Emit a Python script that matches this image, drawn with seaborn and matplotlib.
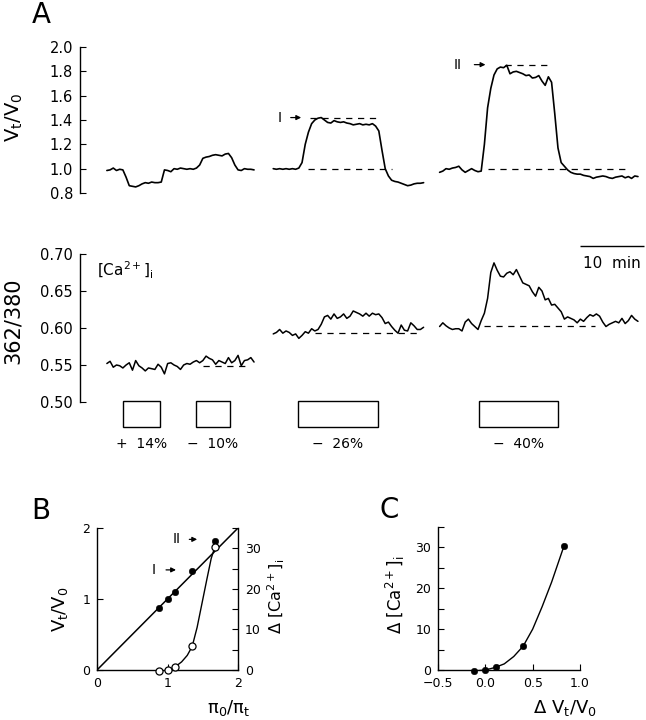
import numpy as np
import pandas as pd
import matplotlib
matplotlib.use("Agg")
import matplotlib.pyplot as plt
from matplotlib.patches import Rectangle
import seaborn as sns

# ---- panel A: time traces (minutes), three recordings ----
seg_start = [0.0, 26.0, 52.0]
seg_end = [23.0, 49.5, 83.0]

vol_seg1 = [0.985, 0.99, 1.005, 0.985, 0.995, 0.99, 0.93, 0.86, 0.855, 0.85,
            0.86, 0.875, 0.885, 0.88, 0.89, 0.885, 0.885, 0.89, 0.99, 0.985,
            0.975, 1.0, 0.995, 1.005, 1.0, 0.995, 1.0, 0.995, 1.005, 1.03,
            1.085, 1.095, 1.1, 1.11, 1.115, 1.11, 1.105, 1.12, 1.125, 1.09,
            1.03, 0.99, 0.985, 1.0, 0.995, 0.995, 0.99]
vol_seg2 = [1.0, 0.995, 1.0, 0.995, 1.0, 0.995, 1.0, 0.995, 1.005, 1.05,
            1.2, 1.3, 1.37, 1.40, 1.415, 1.42, 1.40, 1.38, 1.375, 1.395,
            1.385, 1.38, 1.385, 1.375, 1.37, 1.36, 1.365, 1.37, 1.36, 1.365,
            1.36, 1.37, 1.35, 1.31, 1.15, 1.0, 0.94, 0.905, 0.895, 0.89,
            0.88, 0.87, 0.86, 0.865, 0.875, 0.88, 0.88, 0.885]
vol_seg3 = [0.97, 0.98, 1.0, 0.995, 1.005, 1.01, 1.02, 0.99, 0.97, 0.985,
            1.0, 0.985, 0.975, 0.98, 1.2, 1.5, 1.66, 1.77, 1.82, 1.835,
            1.83, 1.85, 1.78, 1.795, 1.80, 1.79, 1.78, 1.765, 1.77, 1.745,
            1.75, 1.765, 1.72, 1.685, 1.755, 1.71, 1.45, 1.17, 1.05, 1.02,
            0.99, 0.97, 0.96, 0.955, 0.955, 0.945, 0.94, 0.935, 0.92, 0.93,
            0.935, 0.94, 0.935, 0.925, 0.92, 0.93, 0.935, 0.94, 0.925, 0.935,
            0.92, 0.94, 0.935]

ca_seg1 = [0.552, 0.555, 0.547, 0.550, 0.549, 0.546, 0.550, 0.553, 0.543, 0.556,
           0.549, 0.546, 0.542, 0.546, 0.545, 0.544, 0.551, 0.547, 0.538, 0.552,
           0.553, 0.550, 0.548, 0.544, 0.550, 0.552, 0.551, 0.554, 0.556, 0.553,
           0.556, 0.562, 0.559, 0.557, 0.551, 0.556, 0.554, 0.552, 0.560, 0.553,
           0.556, 0.563, 0.549, 0.556, 0.557, 0.560, 0.554]
ca_seg2 = [0.592, 0.594, 0.598, 0.593, 0.596, 0.594, 0.590, 0.592, 0.586, 0.590,
           0.595, 0.593, 0.599, 0.596, 0.598, 0.605, 0.615, 0.617, 0.612, 0.619,
           0.613, 0.615, 0.619, 0.613, 0.616, 0.623, 0.621, 0.619, 0.616, 0.620,
           0.616, 0.620, 0.618, 0.619, 0.614, 0.606, 0.608, 0.602, 0.597, 0.593,
           0.604, 0.597, 0.596, 0.607, 0.603, 0.598, 0.598, 0.601]
ca_seg3 = [0.602, 0.607, 0.603, 0.600, 0.598, 0.599, 0.599, 0.596, 0.608, 0.612,
           0.606, 0.602, 0.598, 0.610, 0.620, 0.640, 0.675, 0.688, 0.678, 0.670,
           0.669, 0.674, 0.676, 0.672, 0.679, 0.670, 0.661, 0.659, 0.657, 0.649,
           0.643, 0.655, 0.650, 0.638, 0.640, 0.631, 0.632, 0.627, 0.622, 0.612,
           0.615, 0.613, 0.611, 0.607, 0.612, 0.609, 0.614, 0.618, 0.616, 0.619,
           0.616, 0.608, 0.602, 0.605, 0.607, 0.609, 0.607, 0.613, 0.606, 0.610,
           0.617, 0.612, 0.609]

# dashed reference levels
vol_ref_level = [1.42, 1.0, 1.855, 1.0]
vol_ref_start = [31.7, 31.4, 62.2, 59.5]
vol_ref_end = [42.3, 44.5, 69.2, 81.4]
ca_ref_level = [0.549, 0.593, 0.603]
ca_ref_start = [15.0, 32.5, 59.0]
ca_ref_end = [21.9, 48.4, 76.3]

# osmotic steps
stim_start = [2.5, 13.9, 29.8, 58.1]
stim_end = [8.3, 19.2, 42.3, 70.5]
stim_labels = ["+  14%", "\u2212  10%", "\u2212  26%", "\u2212  40%"]

# ---- panel B / C ----
pi_ratio = [0.88, 1.0, 1.11, 1.35, 1.67]
vol_ratio = [0.87, 1.0, 1.10, 1.39, 1.82]
d_ca = [-0.3, 0.0, 0.8, 5.8, 30.2]
line_x = [0.0, 2.0]
line_y = [0.0, 2.0]
fit_b_x = [0.88, 1.0, 1.11, 1.2, 1.28, 1.35, 1.42, 1.49, 1.56, 1.62, 1.67]
fit_b_y = [-0.3, -0.1, 0.8, 2.0, 3.6, 5.8, 10.5, 16.5, 22.5, 27.5, 30.2]

d_vol = [-0.12, 0.0, 0.11, 0.40, 0.83]
d_ca_c = [-0.25, 0.0, 0.8, 5.85, 30.3]
fit_c_x = [-0.12, 0.0, 0.1, 0.2, 0.3, 0.4, 0.5, 0.6, 0.7, 0.83]
fit_c_y = [-0.25, 0.0, 0.6, 1.5, 3.3, 5.85, 10.0, 15.5, 21.5, 30.3]


def trace_frame(segs):
    rows = []
    for i, vals in enumerate(segs):
        t = np.linspace(seg_start[i], seg_end[i], len(vals))
        rows.append(pd.DataFrame({"t": t, "val": vals, "seg": i}))
    return pd.concat(rows, ignore_index=True)


sns.set_style("ticks")
plt.rcParams["font.family"] = ["DejaVu Sans"]
plt.rcParams["mathtext.fontset"] = "dejavusans"
plt.rcParams["xtick.direction"] = "in"
plt.rcParams["ytick.direction"] = "in"
plt.rcParams["axes.linewidth"] = 1.0
for key in ["text.color", "axes.edgecolor", "axes.labelcolor", "xtick.color", "ytick.color"]:
    plt.rcParams[key] = "black"

W, H = 646, 720
fig = plt.figure(figsize=(W / 100, H / 100), dpi=100)


def px_axes(x0, y0, x1, y1):
    return fig.add_axes([x0 / W, 1 - y1 / H, (x1 - x0) / W, (y1 - y0) / H])


def ftext(x, y, s, **kw):
    fig.text(x / W, 1 - y / H, s, ha="center", va="center", **kw)


dash = (0, (5, 4.5))
xlim = (-4.2, 84.1)

# --- volume traces ---
ax_vol = px_axes(80, 47, 645, 193)
sns.lineplot(data=trace_frame([vol_seg1, vol_seg2, vol_seg3]), x="t", y="val",
             units="seg", estimator=None, color="k", lw=1.2, ax=ax_vol)
ax_vol.hlines(vol_ref_level, vol_ref_start, vol_ref_end, colors="k", lw=0.9, linestyles=dash)
ax_vol.set_xlim(xlim)
ax_vol.set_ylim(0.8, 2.0)
ax_vol.set_yticks(np.arange(0.8, 2.01, 0.2))
ax_vol.set_yticklabels([f"{v:.1f}" for v in np.arange(0.8, 2.01, 0.2)])
ax_vol.set_xticks([])
ax_vol.set_xlabel("")
ax_vol.set_ylabel("")
sns.despine(ax=ax_vol, bottom=True)
ax_vol.tick_params(axis="y", length=4.5, width=0.8, labelsize=10.5, pad=5)

for lab, tx, t0, t1, lev in [("I", 27.0, 28.3, 30.8, 1.42), ("II", 54.8, 57.0, 59.6, 1.855)]:
    ax_vol.text(tx, lev, lab, ha="center", va="center", fontsize=10)
    ax_vol.annotate("", xy=(t1, lev), xytext=(t0, lev),
                    arrowprops=dict(arrowstyle="-|>", lw=0.9, color="k", mutation_scale=7))

# --- calcium traces ---
ax_ca = px_axes(80, 254, 645, 402)
sns.lineplot(data=trace_frame([ca_seg1, ca_seg2, ca_seg3]), x="t", y="val",
             units="seg", estimator=None, color="k", lw=1.1, ax=ax_ca)
ax_ca.hlines(ca_ref_level, ca_ref_start, ca_ref_end, colors="k", lw=0.9, linestyles=dash)
ax_ca.set_xlim(xlim)
ax_ca.set_ylim(0.5, 0.7)
ax_ca.set_yticks(np.arange(0.5, 0.701, 0.05))
ax_ca.set_yticklabels([f"{v:.2f}" for v in np.arange(0.5, 0.701, 0.05)])
ax_ca.set_xticks([])
ax_ca.set_xlabel("")
ax_ca.set_ylabel("")
sns.despine(ax=ax_ca, bottom=True)
ax_ca.tick_params(axis="y", length=4.5, width=0.8, labelsize=10.5, pad=5)
ax_ca.text(-1.6, 0.678, r"$\mathregular{[Ca^{2+}]_i}$", ha="left", va="center", fontsize=11)
# 10 min scale bar
ax_ca.hlines(0.7108, 74.0, 84.0, colors="k", lw=1.0, clip_on=False)
ax_ca.text(79.0, 0.6865, "10  min", ha="center", va="center", fontsize=11)

# --- stimulus boxes ---
ax_st = px_axes(80, 398, 645, 455)
ax_st.set_xlim(xlim)
ax_st.set_ylim(0, 57)
ax_st.axis("off")
for s0, s1, lab in zip(stim_start, stim_end, stim_labels):
    ax_st.add_patch(Rectangle((s0, 28), s1 - s0, 26, fill=False, ec="k", lw=1.0))
    ax_st.text((s0 + s1) / 2, 11, lab, ha="center", va="center", fontsize=10)

# --- panel B ---
ax_b = px_axes(97, 528, 238, 670)
ax_b2 = ax_b.twinx()
sns.lineplot(x=line_x, y=line_y, color="k", lw=1.1, ax=ax_b)
sns.scatterplot(x=pi_ratio, y=vol_ratio, color="k", s=22, edgecolor="k", ax=ax_b, zorder=4)
sns.lineplot(x=fit_b_x, y=fit_b_y, color="k", lw=1.0, ax=ax_b2, sort=False)
sns.scatterplot(x=pi_ratio, y=d_ca, color="white", edgecolor="k", linewidth=0.9,
                s=26, ax=ax_b2, zorder=5, clip_on=False)
ax_b.set_xlim(0, 2)
ax_b.set_ylim(0, 2)
ax_b2.set_ylim(0, 35)
ax_b.set_xticks([0, 1, 2])
ax_b.set_yticks([0, 1, 2])
ax_b2.set_yticks([0, 10, 20, 30])
ax_b2.set_yticks([5, 15, 25, 35], minor=True)
for a in (ax_b, ax_b2):
    a.tick_params(which="both", length=4, width=0.8, labelsize=9, pad=5)
    a.spines["top"].set_visible(False)
ax_b.spines["right"].set_visible(False)
ax_b2.spines["left"].set_visible(False)
ax_b2.spines["bottom"].set_visible(False)
for a in (ax_b, ax_b2):
    a.set_xlabel("")
    a.set_ylabel("")
for lab, tx, t0, t1, lev in [("I", 0.81, 0.94, 1.16, 1.41), ("II", 1.13, 1.27, 1.46, 1.84)]:
    ax_b.text(tx, lev, lab, ha="center", va="center", fontsize=10)
    ax_b.annotate("", xy=(t1, lev), xytext=(t0, lev),
                  arrowprops=dict(arrowstyle="-|>", lw=0.9, color="k", mutation_scale=7))

# --- panel C ---
ax_c = px_axes(438, 527, 580, 670)
sns.lineplot(x=fit_c_x, y=fit_c_y, color="k", lw=1.0, ax=ax_c, sort=False)
sns.scatterplot(x=d_vol, y=d_ca_c, color="k", s=22, edgecolor="k", ax=ax_c,
                zorder=4, clip_on=False)
ax_c.set_xlim(-0.5, 1.0)
ax_c.set_ylim(0, 35)
ax_c.set_xticks([-0.5, 0.0, 0.5, 1.0])
ax_c.set_xticklabels(["\u22120.5", "0.0", "0.5", "1.0"])
ax_c.set_yticks([0, 10, 20, 30])
ax_c.set_yticks([5, 15, 25, 35], minor=True)
ax_c.tick_params(which="both", length=4, width=0.8, labelsize=9, pad=5)
ax_c.set_xlabel("")
ax_c.set_ylabel("")
sns.despine(ax=ax_c)

# --- labels ---
ftext(41, 15, "A", fontsize=20)
ftext(41, 511, "B", fontsize=20)
ftext(389, 510, "C", fontsize=20)
ftext(14, 117, r"$\mathregular{V_t/V_0}$", fontsize=14, rotation=90)
ftext(13, 321, "362/380", fontsize=15, rotation=90)
ftext(60, 609, r"$\mathregular{V_t/V_0}$", fontsize=13, rotation=90)
ftext(276, 596, r"$\mathregular{\Delta\ [Ca^{2+}]_i}$", fontsize=11.5, rotation=90)
ftext(229, 708, r"$\mathregular{\pi_0/\pi_t}$", fontsize=13)
ftext(395, 595, r"$\mathregular{\Delta\ [Ca^{2+}]_i}$", fontsize=12, rotation=90)
ftext(565, 708, r"$\mathregular{\Delta\ V_t/V_0}$", fontsize=13)

fig.savefig("out.png", dpi=100)
